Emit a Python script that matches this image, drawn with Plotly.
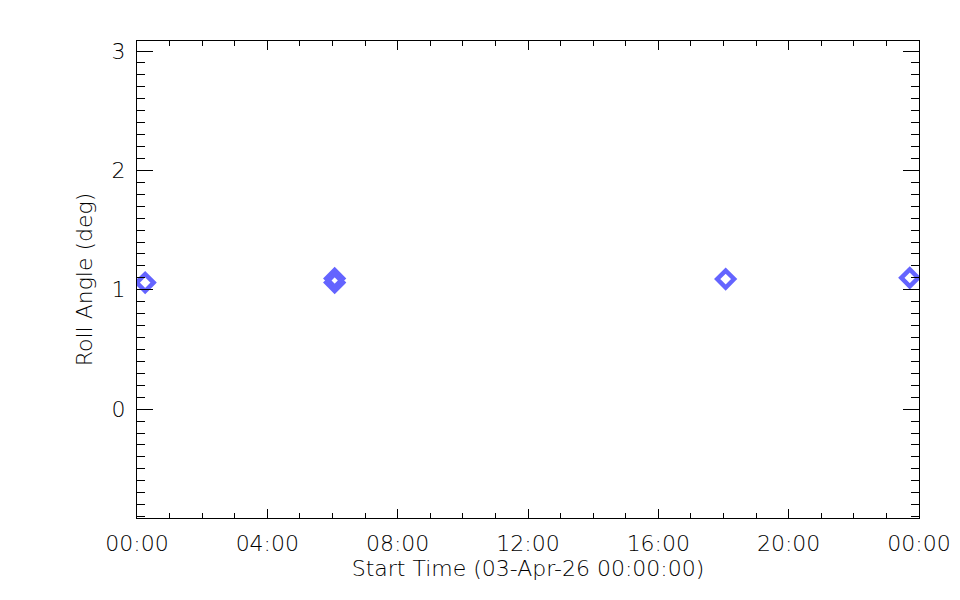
import plotly.graph_objects as go

times = ["2026-04-03 00:15", "2026-04-03 06:04", "2026-04-03 06:04", "2026-04-03 18:04", "2026-04-03 23:43"]
roll = [1.06, 1.095, 1.06, 1.09, 1.10]

x_range = ["2026-04-03 00:00", "2026-04-04 00:00"]
y_range = [-0.912, 3.084]
x_title = "Start Time (03-Apr-26 00:00:00)"
y_title = "Roll Angle (deg)"

font = dict(family="DejaVu Sans", size=22, color="black", weight=200)

fig = go.Figure()
fig.add_trace(go.Scatter(
    x=times, y=roll, mode="markers",
    marker=dict(symbol="diamond-open", size=13, color="#6464FF",
                line=dict(width=4.5, color="#6464FF")),
    showlegend=False,
))

fig.update_layout(
    width=952, height=592,
    margin=dict(l=129, r=41, t=33, b=82, autoexpand=False),
    paper_bgcolor="white", plot_bgcolor="white",
    font=font,
)
fig.update_xaxes(
    type="date", range=x_range, dtick=4 * 3600000, tick0="2026-04-03 00:00",
    tickformat="%H:%M", ticks="inside", ticklen=9, tickwidth=1, tickcolor="black",
    minor=dict(dtick=3600000, ticks="inside", ticklen=5, tickwidth=1, tickcolor="black", showgrid=False),
    showline=True, linecolor="black", linewidth=1, mirror="allticks",
    showgrid=False, zeroline=False, ticklabelstandoff=6,
    title=dict(text=x_title, standoff=2, font=font),
)
fig.update_yaxes(
    range=y_range, dtick=1, tick0=0, ticks="inside", ticklen=16, tickwidth=1, tickcolor="black",
    minor=dict(dtick=0.1, ticks="inside", ticklen=8, tickwidth=1, tickcolor="black", showgrid=False),
    showline=True, linecolor="black", linewidth=1, mirror="allticks",
    showgrid=False, zeroline=False, ticklabelstandoff=6,
    title=dict(text=y_title, standoff=12, font=font),
)

fig.write_html("out.html")
